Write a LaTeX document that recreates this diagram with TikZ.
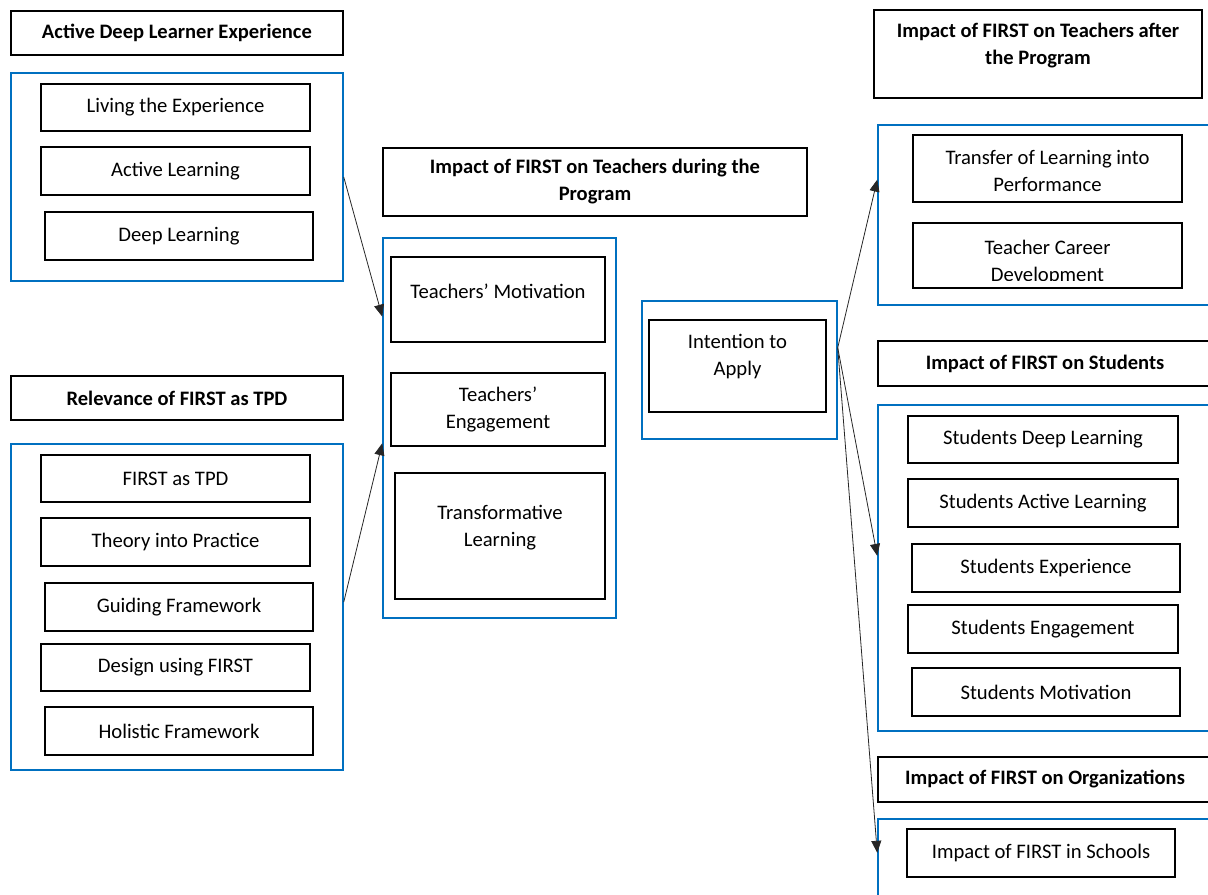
\documentclass[tikz,border=0pt]{standalone}
\usepackage{fontspec}
\setmainfont{Carlito}
\usetikzlibrary{arrows.meta,calc}
\definecolor{grpblue}{RGB}{0,112,192}
% \pbox[style]{name}{x1}{y1}{x2}{y2}{text}: a box given by its corners (in px)
\newcommand\pbox[7][]{%
  \node[#1, minimum width={(#5-#3)*0.75pt}, minimum height={(#6-#4)*0.75pt}]
    (#2) at ({(#3+#5)/2},{(#4+#6)/2}) {#7};}
\begin{document}
\begin{tikzpicture}[x=0.75pt,y=-0.75pt,
  every node/.style={font=\fontsize{15.5pt}{20.25pt}\selectfont},
  bodytext/.style={align=center},
  headtext/.style={align=center, font=\fontsize{15.4pt}{20.25pt}\selectfont\bfseries},
  item/.style={draw=black, line width=1.1pt, inner sep=0pt, bodytext},
  head/.style={item, headtext},
  group/.style={draw=grpblue, line width=1.1pt, inner sep=0pt},
  link/.style={draw=black!85, line width=0.6pt, -{Triangle[length=9pt,width=7.5pt]}},
]
\useasboundingbox (0,0) rectangle (1208,894);
\clip (0,0) rectangle (1208,894);

% ---- left column ----
\pbox[head]{hA}{11}{11}{343}{55}{Active Deep Learner Experience}
\pbox[group]{gA}{11}{73}{343}{281}{}
\pbox[item]{a1}{41}{84}{310}{131}{Living the Experience}
\pbox[item]{a2}{41}{147}{310}{195}{Active Learning}
\pbox[item]{a3}{45}{212}{313}{260}{Deep Learning}

\pbox[head]{hB}{11}{376}{343}{420}{Relevance of FIRST as TPD}
\pbox[group]{gB}{11}{444}{343}{770}{}
\pbox[item]{b1}{41}{455}{310}{502}{FIRST as TPD}
\pbox[item]{b2}{41}{518}{310}{566}{Theory into Practice}
\pbox[item]{b3}{45}{583}{313}{631}{Guiding Framework}
\pbox[item]{b4}{41}{644}{310}{691}{Design using FIRST}
\pbox[item]{b5}{45}{707}{313}{755}{Holistic Framework}

% ---- middle column ----
\pbox[head]{hM}{383}{148}{807}{216}{Impact of FIRST on Teachers during the\\Program}
\pbox[group]{gM}{383}{238}{616}{618}{}
\pbox[item, label={[name=m1t, bodytext, yshift=6.4pt]center:Teachers’ Motivation}]{m1}{391}{257}{605}{342}{}
\pbox[item]{m2}{391}{373}{605}{446}{Teachers’\\Engagement}
\pbox[item, label={[name=m3t, bodytext, yshift=6.4pt]center:Transformative\\Learning}]{m3}{395}{473}{605}{599}{}

\pbox[group]{gI}{642}{301}{837}{439}{}
\pbox[item, label={[name=i1t, bodytext, yshift=7.1pt]center:Intention to\\Apply}]{i1}{649}{320}{826}{412}{}

% ---- right column ----
\pbox[head, label={[name=hTt, headtext, yshift=6.4pt]center:Impact of FIRST on Teachers after\\the Program}]{hT}{874}{10}{1202}{98}{}
\pbox[group]{gT}{878}{125}{1220}{305}{}
\pbox[item, label={[name=t1t, bodytext, yshift=-2.2pt]center:Transfer of Learning into\\Performance}]{t1}{913}{135}{1182}{202}{}
\pbox[item]{t2}{913}{223}{1182}{288}{}
% the second line runs past the bottom margin of its box and is cut there
\begin{scope}
  \clip (913,223) rectangle (1182,280);
  \node[bodytext] (t2t) at (1047.5,262) {Teacher Career\\Development};
\end{scope}

\pbox[head]{hS}{878}{341}{1212}{386}{Impact of FIRST on Students}
\pbox[group]{gS}{878}{405}{1220}{731}{}
\pbox[item]{s1}{908}{416}{1178}{463}{Students Deep Learning}
\pbox[item]{s2}{908}{479}{1178}{527}{Students Active Learning}
\pbox[item]{s3}{912}{544}{1180}{592}{Students Experience}
\pbox[item]{s4}{908}{605}{1178}{653}{Students Engagement}
\pbox[item]{s5}{912}{668}{1180}{716}{Students Motivation}

\pbox[head]{hO}{878}{757}{1212}{802}{Impact of FIRST on Organizations}
\pbox[group]{gO}{878}{819}{1220}{920}{}
\pbox[item]{o1}{907}{829}{1175}{877}{Impact of FIRST in Schools}

% ---- connectors ----
\draw[link] (gA.east) -- ($(gM.north west)!0.208!(gM.south west)$);
\draw[link] ($(gB.north east)!0.485!(gB.south east)$) -- ($(gM.north west)!0.54!(gM.south west)$);
\coordinate (iout) at ($(gI.north east)!0.34!(gI.south east)$);
\draw[link] (iout) -- ($(gT.north west)!0.305!(gT.south west)$);
\draw[link] (iout) -- ($(gS.north west)!0.463!(gS.south west)$);
\draw[link] (iout) -- ($(gO.north west)!0.337!(gO.south west)$);
\end{tikzpicture}
\end{document}
